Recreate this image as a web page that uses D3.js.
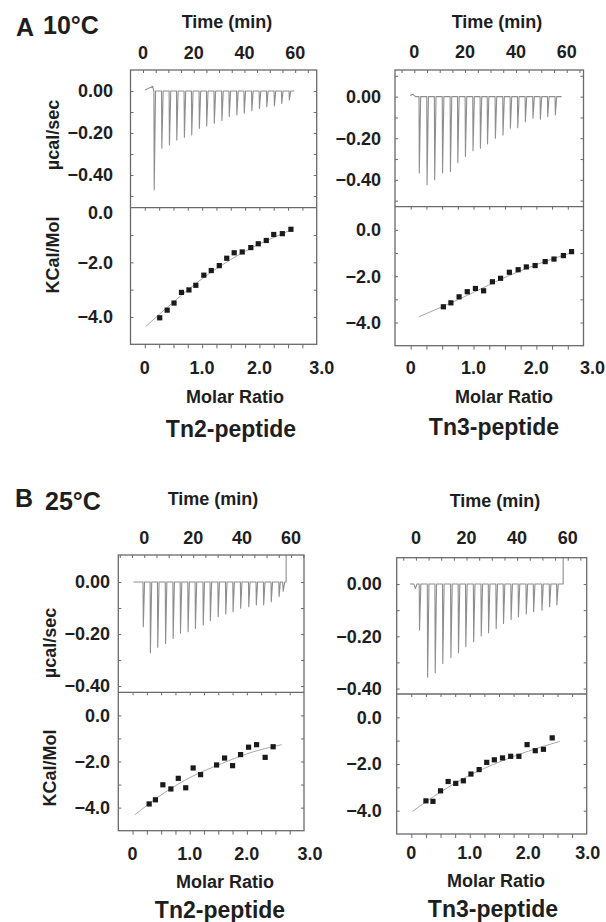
<!DOCTYPE html>
<html><head><meta charset="utf-8">
<script src="https://cdn.jsdelivr.net/npm/d3@7"></script>
<style>
body{margin:0;background:#fff}
svg text{font-family:"Liberation Sans",Arial,Helvetica,sans-serif;font-weight:bold;fill:#1e1e1e}
</style>
</head><body>
<svg id="c" width="606" height="922"></svg>
<script>
// ---------------- DATA ----------------
const timeTickValues = [0, 20, 40, 60];
const ratioTickValues = [0, 1, 2, 3];
const rawTickValues = [0, -0.2, -0.4];
const heatTickValues = [0, -2, -4];
const panelLetters = ["A", "B"];
const temperatures = ["10°C", "25°C"];
const peptideNames = ["Tn2-peptide", "Tn3-peptide"];

// A, 10°C, Tn2
const tn2_10_injTime = [4.3, 7.3, 10.3, 13.2, 16.2, 19.1, 22.1, 25.0, 28.0, 31.0, 33.9, 36.9, 39.8, 42.8, 45.8, 48.7, 51.7, 54.6, 57.6];
const tn2_10_injPeak = [-0.47, -0.273, -0.257, -0.233, -0.22, -0.21, -0.178, -0.167, -0.154, -0.141, -0.122, -0.114, -0.106, -0.094, -0.083, -0.075, -0.071, -0.059, -0.043];
const tn2_10_pre = [[0.8, 0.005], [3.8, 0.022]];
const tn2_10_post = [[59.6, 0]];
const tn2_10_ratio = [0.26, 0.39, 0.51, 0.64, 0.77, 0.89, 1.03, 1.16, 1.30, 1.43, 1.56, 1.70, 1.85, 1.98, 2.12, 2.25, 2.40, 2.55];
const tn2_10_heat = [-4.03, -3.75, -3.49, -3.10, -3.01, -2.84, -2.47, -2.30, -2.12, -1.85, -1.65, -1.62, -1.46, -1.32, -1.20, -0.98, -0.95, -0.79];
const tn2_10_fitRatio = [0.01, 0.5, 1.0, 1.5, 2.0, 2.55];
const tn2_10_fitHeat = [-4.36, -3.45, -2.6, -1.9, -1.33, -0.82];

// A, 10°C, Tn3
const tn3_10_injTime = [1.85, 4.9, 7.9, 11.0, 14.1, 17.0, 20.0, 23.0, 25.9, 28.7, 31.8, 34.8, 37.7, 40.6, 43.6, 46.6, 49.5, 52.4, 55.4];
const tn3_10_injPeak = [-0.367, -0.424, -0.40, -0.367, -0.36, -0.317, -0.288, -0.26, -0.248, -0.227, -0.2, -0.184, -0.152, -0.149, -0.12, -0.104, -0.108, -0.096, -0.088];
const tn3_10_pre = [[-1.7, 0.006], [-0.6, 0.012], [0.5, 0]];
const tn3_10_post = [[58.0, 0]];
const tn3_10_ratio = [0.52, 0.64, 0.77, 0.90, 1.03, 1.16, 1.30, 1.43, 1.57, 1.71, 1.84, 1.98, 2.14, 2.28, 2.43, 2.56];
const tn3_10_heat = [-3.32, -3.15, -2.89, -2.67, -2.53, -2.63, -2.24, -2.09, -1.83, -1.72, -1.60, -1.54, -1.37, -1.26, -1.11, -0.94];
const tn3_10_fitRatio = [0.13, 0.5, 1.0, 1.5, 2.0, 2.6];
const tn3_10_fitHeat = [-3.75, -3.32, -2.7, -2.05, -1.5, -0.95];

// B, 25°C, Tn2
const tn2_25_injTime = [-0.5, 2.4, 5.4, 8.6, 11.7, 14.7, 17.8, 20.8, 24.0, 26.9, 30.1, 33.2, 36.2, 39.3, 42.6, 45.7, 48.7, 51.8, 55.0];
const tn2_25_injPeak = [-0.172, -0.272, -0.251, -0.236, -0.217, -0.197, -0.191, -0.178, -0.165, -0.149, -0.133, -0.123, -0.114, -0.101, -0.095, -0.088, -0.088, -0.076, -0.056];
const tn2_25_pre = [[-4.4, 0]];
const tn2_25_post = [[56.6, 0], [56.8, -0.035], [57.4, 0], [58.0, 0], [58.0, 0.104]];
const tn2_25_ratio = [0.29, 0.40, 0.53, 0.67, 0.80, 0.93, 1.06, 1.19, 1.47, 1.61, 1.75, 1.89, 2.03, 2.17, 2.32, 2.46];
const tn2_25_heat = [-3.84, -3.66, -3.01, -3.19, -2.73, -3.14, -2.28, -2.57, -2.15, -1.85, -2.18, -1.70, -1.38, -1.27, -1.82, -1.36];
const tn2_25_fitRatio = [0.04, 0.53, 1.04, 1.55, 2.06, 2.61];
const tn2_25_fitHeat = [-4.31, -3.4, -2.65, -2.1, -1.62, -1.27];

// B, 25°C, Tn3
const tn3_25_injTime = [1.3, 4.5, 7.5, 10.5, 13.7, 16.7, 19.6, 22.7, 25.7, 28.6, 31.6, 34.5, 37.5, 40.4, 43.5, 46.4, 49.7, 52.7, 55.6];
const tn3_25_injPeak = [-0.176, -0.357, -0.34, -0.304, -0.281, -0.263, -0.24, -0.221, -0.199, -0.186, -0.17, -0.151, -0.136, -0.125, -0.115, -0.106, -0.1, -0.087, -0.08];
const tn3_25_pre = [[-2.4, 0], [-0.8, 0], [-0.2, -0.017], [0.4, 0]];
const tn3_25_post = [[58.2, 0], [58.2, 0.101]];
const tn3_25_ratio = [0.25, 0.37, 0.50, 0.63, 0.76, 0.89, 1.02, 1.16, 1.29, 1.42, 1.56, 1.70, 1.84, 1.98, 2.12, 2.26, 2.41];
const tn3_25_heat = [-3.58, -3.60, -3.15, -2.75, -2.83, -2.72, -2.43, -2.24, -1.93, -1.82, -1.74, -1.67, -1.67, -1.17, -1.43, -1.37, -0.88];
const tn3_25_fitRatio = [0.02, 0.5, 1.0, 1.5, 2.0, 2.54];
const tn3_25_fitHeat = [-4.03, -3.2, -2.48, -1.92, -1.45, -1.03];

// ---------------- LAYOUT ----------------
const panels = [
  {x0:130.5, x1:316.7, yTop:70, yMid:207.7, yBot:344.3,
   timeDom:[-4.93,68.5], ratioDom:[-0.25,3.0], rawDom:[-0.556,0.10], heatDom:[-5,0],
   timeTitle:[227,22], timeLabY:53, ratioLabY:368, molarTitle:[235,397], pepTitle:[231,429],
   yLabR:113, yTitles:true, yTitleX:53, rawTitleY:135, heatTitleY:255, lab3dx:5,
   injTime:tn2_10_injTime, injPeak:tn2_10_injPeak, pre:tn2_10_pre, post:tn2_10_post,
   ratio:tn2_10_ratio, heat:tn2_10_heat, fitR:tn2_10_fitRatio, fitH:tn2_10_fitHeat, pep:0},
  {x0:395, x1:583.5, yTop:70, yMid:206.7, yBot:345.7,
   timeDom:[-7.6,66.6], ratioDom:[-0.25,2.75], rawDom:[-0.529,0.128], heatDom:[-5,1],
   timeTitle:[497,22], timeLabY:52, ratioLabY:368, molarTitle:[504,397], pepTitle:[494,427],
   yLabR:381, yTitles:false, lab3dx:9,
   injTime:tn3_10_injTime, injPeak:tn3_10_injPeak, pre:tn3_10_pre, post:tn3_10_post,
   ratio:tn3_10_ratio, heat:tn3_10_heat, fitR:tn3_10_fitRatio, fitH:tn3_10_fitHeat, pep:1},
  {x0:118.3, x1:304, yTop:555, yMid:692.3, yBot:830.7,
   timeDom:[-10.6,65.3], ratioDom:[-0.25,3.0], rawDom:[-0.424,0.104], heatDom:[-5,1],
   timeTitle:[213,499], timeLabY:538, ratioLabY:854, molarTitle:[225,882], pepTitle:[220,910],
   yLabR:110, yTitles:true, yTitleX:50, rawTitleY:643, heatTitleY:768, lab3dx:6,
   injTime:tn2_25_injTime, injPeak:tn2_25_injPeak, pre:tn2_25_pre, post:tn2_25_post,
   ratio:tn2_25_ratio, heat:tn2_25_heat, fitR:tn2_25_fitRatio, fitH:tn2_25_fitHeat, pep:0},
  {x0:396.7, x1:586.7, yTop:557.7, yMid:694, yBot:834,
   timeDom:[-7.6,67.5], ratioDom:[-0.25,3.0], rawDom:[-0.421,0.101], heatDom:[-5,1],
   timeTitle:[495,501], timeLabY:538, ratioLabY:853, molarTitle:[496,881], pepTitle:[493,909],
   yLabR:381.7, yTitles:false, lab3dx:1,
   injTime:tn3_25_injTime, injPeak:tn3_25_injPeak, pre:tn3_25_pre, post:tn3_25_post,
   ratio:tn3_25_ratio, heat:tn3_25_heat, fitR:tn3_25_fitRatio, fitH:tn3_25_fitHeat, pep:1}
];

const svg = d3.select("#c");
const frameColor = "#6a6a6a";
const traceColor = "#8e8e8e";
const fmt2 = d3.format(".2f"), fmt1 = d3.format(".1f");

function inward(sel, axis){
  sel.call(axis);
  sel.select(".domain").remove();
  sel.selectAll(".tick line").attr("stroke", frameColor).attr("stroke-width", 1);
}

panels.forEach(L => {
  const g = svg.append("g");
  const xT = d3.scaleLinear().domain(L.timeDom).range([L.x0, L.x1]);
  const xR = d3.scaleLinear().domain(L.ratioDom).range([L.x0, L.x1]);
  const yRaw = d3.scaleLinear().domain(L.rawDom).range([L.yMid, L.yTop]);
  const yHeat = d3.scaleLinear().domain(L.heatDom).range([L.yBot, L.yMid]);

  const timeMinor = d3.range(-10, 71, 5).filter(v => v > L.timeDom[0] && v < L.timeDom[1]);
  const ratioMinor = d3.range(-0.25, 3.01, 0.25).filter(v => v > L.ratioDom[0] + 0.01 && v < L.ratioDom[1] - 0.01);
  const rawMinor = d3.range(-0.6, 0.21, 0.1).filter(v => v > L.rawDom[0] + 0.01 && v < L.rawDom[1] - 0.01);
  const heatMinor = d3.range(-5, 1.01, 1).filter(v => v > L.heatDom[0] + 0.01 && v < L.heatDom[1] - 0.01);

  inward(g.append("g").attr("transform", `translate(0,${L.yTop})`), d3.axisBottom(xT).tickValues(timeMinor).tickSize(3).tickFormat(""));
  inward(g.append("g").attr("transform", `translate(0,${L.yMid})`), d3.axisBottom(xR).tickValues(ratioMinor).tickSize(3).tickFormat(""));
  inward(g.append("g").attr("transform", `translate(0,${L.yBot})`), d3.axisBottom(xR).tickValues(ratioMinor).tickSize(4).tickFormat(""));
  inward(g.append("g").attr("transform", `translate(${L.x0},0)`), d3.axisRight(yRaw).tickValues(rawMinor).tickSize(3).tickFormat(""));
  inward(g.append("g").attr("transform", `translate(${L.x1},0)`), d3.axisLeft(yRaw).tickValues(rawMinor).tickSize(3).tickFormat(""));
  inward(g.append("g").attr("transform", `translate(${L.x0},0)`), d3.axisRight(yHeat).tickValues(heatMinor).tickSize(3).tickFormat(""));
  inward(g.append("g").attr("transform", `translate(${L.x1},0)`), d3.axisLeft(yHeat).tickValues(heatMinor).tickSize(3).tickFormat(""));

  // raw trace
  const pts = L.pre.slice();
  L.injTime.forEach((t, i) => {
    pts.push([t, 0], [t + 0.12, L.injPeak[i]], [t + 0.65, 0]);
  });
  L.post.forEach(p => pts.push(p));
  g.append("path")
    .attr("d", d3.line().x(d => xT(d[0])).y(d => yRaw(d[1]))(pts))
    .attr("fill", "none").attr("stroke", traceColor).attr("stroke-width", 1.1)
    .attr("stroke-linejoin", "round");

  // fit curve
  const fit = L.fitR.map((r, i) => [r, L.fitH[i]]);
  g.append("path")
    .attr("d", d3.line().curve(d3.curveMonotoneX).x(d => xR(d[0])).y(d => yHeat(d[1]))(fit))
    .attr("fill", "none").attr("stroke", "#a8a8a8").attr("stroke-width", 1);

  // data points
  g.selectAll("rect.pt").data(L.ratio.map((r, i) => [r, L.heat[i]])).join("rect")
    .attr("class", "pt")
    .attr("x", d => xR(d[0]) - 2.6).attr("y", d => yHeat(d[1]) - 2.6)
    .attr("width", 5.2).attr("height", 5.2).attr("fill", "#1a1a1a");

  // frames
  g.append("rect").attr("x", L.x0).attr("y", L.yTop).attr("width", L.x1 - L.x0).attr("height", L.yBot - L.yTop)
    .attr("fill", "none").attr("stroke", frameColor).attr("stroke-width", 1.3);
  g.append("line").attr("x1", L.x0).attr("x2", L.x1).attr("y1", L.yMid).attr("y2", L.yMid)
    .attr("stroke", frameColor).attr("stroke-width", 1.3);

  // labels
  const txt = (x, y, s, size, anchor) => g.append("text").attr("x", x).attr("y", y).attr("dy", "0.35em")
    .attr("text-anchor", anchor || "middle").style("font-size", size + "px").text(s);

  txt(L.timeTitle[0], L.timeTitle[1], "Time (min)", 18);
  timeTickValues.forEach(v => txt(xT(v), L.timeLabY, String(v), 18));
  rawTickValues.forEach(v => txt(L.yLabR, yRaw(v), fmt2(v), 18, "end"));
  heatTickValues.forEach(v => txt(L.yLabR, Math.max(yHeat(v), L.yMid + 4.5), fmt1(v), 18, "end"));
  ratioTickValues.forEach(v => {
    const x = v === 3 ? L.x1 + L.lab3dx : xR(v);
    txt(x, L.ratioLabY, v === 0 ? "0" : fmt1(v), 18);
  });
  txt(L.molarTitle[0], L.molarTitle[1], "Molar Ratio", 18);
  txt(L.pepTitle[0], L.pepTitle[1], peptideNames[L.pep], 23);

  if (L.yTitles) {
    g.append("text").attr("transform", `translate(${L.yTitleX},${L.rawTitleY}) rotate(-90)`)
      .attr("dy", "0.35em").attr("text-anchor", "middle").style("font-size", "18px").text("µcal/sec");
    g.append("text").attr("transform", `translate(${L.yTitleX},${L.heatTitleY}) rotate(-90)`)
      .attr("dy", "0.35em").attr("text-anchor", "middle").style("font-size", "18px").text("KCal/Mol");
  }
});

// panel letters and temperatures
[[25, 27, 43, 25], [24, 498, 45, 501]].forEach((p, i) => {
  svg.append("text").attr("x", p[0]).attr("y", p[1]).attr("dy", "0.35em").attr("text-anchor", "middle")
    .style("font-size", "25px").text(panelLetters[i]);
  svg.append("text").attr("x", p[2]).attr("y", p[3]).attr("dy", "0.35em").attr("text-anchor", "start")
    .style("font-size", "25px").text(temperatures[i]);
});
</script>
</body></html>
